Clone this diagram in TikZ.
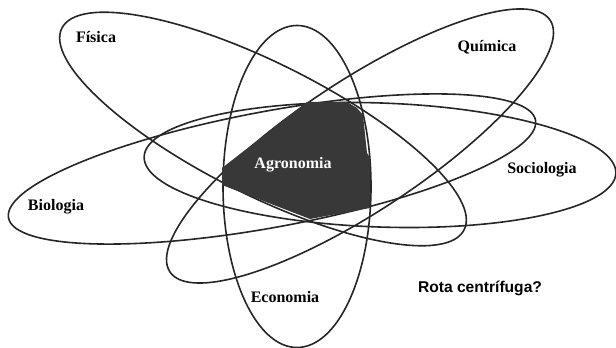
\documentclass[tikz,border=0pt]{standalone}
\usepackage{fontspec}
\setmainfont{Liberation Serif}
\newfontfamily\rotafont{Liberation Sans}

\begin{document}
\begin{tikzpicture}[x=0.75pt, y=0.75pt,
  orbit/.style={draw=black!85, line width=1.2pt},
  field/.style={font=\fontsize{12}{14}\selectfont\bfseries}]

  \useasboundingbox (0,0) rectangle (616,348);

  \foreach \cx/\cy/\ang/\ra/\rb in {263/219/-26.6/225/66, 360/202/33.5/228/65,
      272/179/10.5/268/58, 380/183/-2/236/62, 297/161.5/0/74/161} {
    \draw[orbit, rotate around={\ang:(\cx,\cy)}] (\cx,\cy) ellipse ({\ra} and {\rb});
  }

  \fill[black!78] (307,246) -- (347,246) -- (357,240) -- (363,233) -- (367,195)
    -- (370,190) -- (370,140) -- (310,129) -- (222,163) -- (222,180) -- cycle;

  \node[field, white] (agro) at (293,183) {Agronomia};

  \node[field] (fis) at (96,311) {Física};
  \node[field] (qui) at (487,301) {Química};
  \node[field] (soc) at (542,178) {Sociologia};
  \node[field] (bio) at (56,141) {Biologia};
  \node[field] (eco) at (285,51) {Economia};
  \node[font=\rotafont\fontsize{11.7}{14}\selectfont\bfseries] (rota) at (480,60) {Rota centrífuga?};

\end{tikzpicture}
\end{document}
